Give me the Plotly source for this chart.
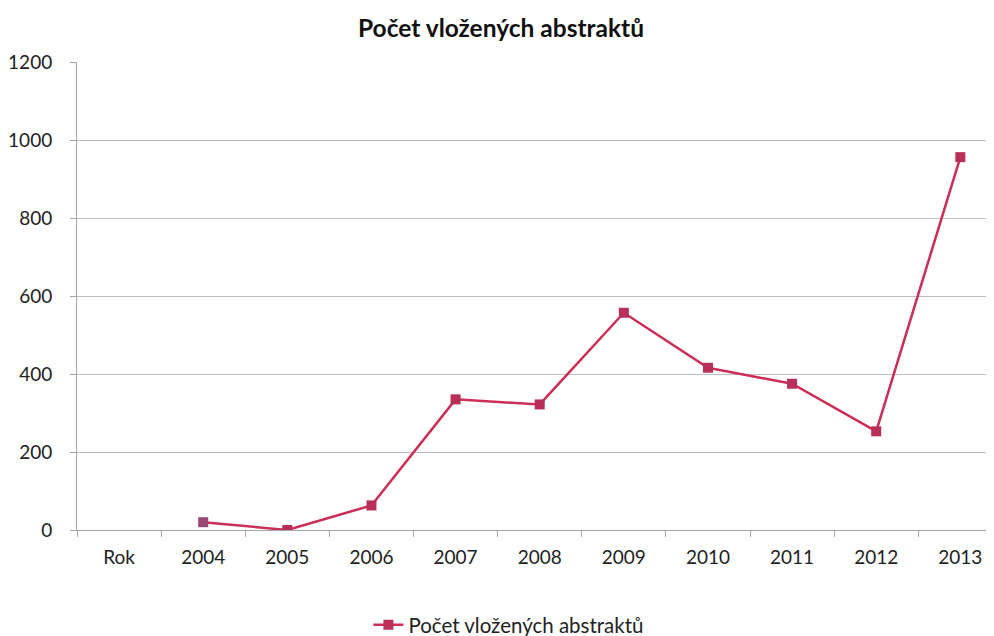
import plotly.graph_objects as go

categories = ["Rok", "2004", "2005", "2006", "2007", "2008", "2009", "2010", "2011", "2012", "2013"]
values = [None, 20, 0, 63, 335, 322, 557, 416, 375, 253, 956]
series_name = "Počet vložených abstraktů"
y_ticks = [0, 200, 400, 600, 800, 1000, 1200]

marker_colors = ["#B8305A"] * len(categories)
marker_colors[1] = "#9A4A72"

fig = go.Figure()
fig.add_trace(go.Scatter(
    x=categories, y=values, name=series_name, mode="lines+markers",
    line=dict(color="#CC2E55", width=2.5),
    marker=dict(symbol="square", size=10, color=marker_colors),
    connectgaps=False,
))

fig.update_layout(
    width=986, height=628,
    margin=dict(l=69, r=0, t=54, b=106, autoexpand=False),
    paper_bgcolor="white", plot_bgcolor="white",
    font=dict(family="Lato, Open Sans, sans-serif", size=19, color="#222"),
    title=dict(text="<b>" + series_name + "</b>", x=0.5, xanchor="center", y=0.968, yanchor="middle",
               font=dict(size=24.5, color="#111")),
    showlegend=True,
    legend=dict(orientation="h", x=0.471, xanchor="center", y=-0.203, yanchor="middle",
                font=dict(size=20.5), itemwidth=30),
    xaxis=dict(type="category", categoryorder="array", categoryarray=categories, automargin=False,
               range=[-0.5, 10.4], showgrid=False, showline=True, linecolor="#A6A6A6", linewidth=1,
               ticks="outside", tickson="boundaries", ticklen=6, tickcolor="#A6A6A6",
               ticklabelstandoff=10),
    yaxis=dict(range=[0, 1200], tickvals=y_ticks, showgrid=True, gridcolor="#BFBFBF", gridwidth=1,
               showline=True, linecolor="#A6A6A6", linewidth=1, ticks="outside", ticklen=6,
               tickcolor="#A6A6A6", zeroline=False, ticklabelstandoff=14, automargin=False),
)

fig.write_html("out.html")
